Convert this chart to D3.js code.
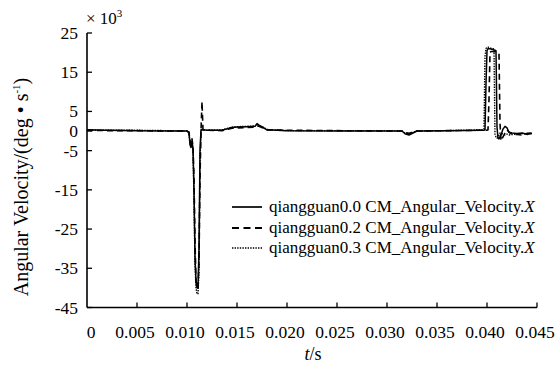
<!DOCTYPE html>
<html><head><meta charset="utf-8">
<script src="https://cdn.jsdelivr.net/npm/d3@7"></script>
<style>
body{margin:0;background:#fff;}
text{font-family:"Liberation Serif","Times New Roman",serif;fill:#000;}
</style></head>
<body><svg id="c" width="558" height="370"></svg>
<script>
// time (s)
const times = [0,0.002,0.005,0.008,0.0100,0.0102,0.0103,0.0104,0.0105,0.0106,0.0107,0.0108,0.0109,0.0110,0.0111,0.0112,0.0113,0.0114,0.0115,0.0116,0.0120,0.0135,0.0145,0.0150,0.0160,0.0168,0.0170,0.0172,0.0176,0.0180,0.0200,0.0250,0.0300,0.0315,0.0318,0.0322,0.0326,0.0330,0.0360,0.0395,0.0397,0.0398,0.0399,0.0400,0.0401,0.0402,0.0403,0.0404,0.0406,0.0407,0.0408,0.0409,0.0410,0.0411,0.0412,0.0413,0.0414,0.0416,0.0418,0.0420,0.0422,0.0425,0.0430,0.0435,0.0440,0.0445];
// angular velocity (x10^3 deg/s)
const solid00 = [0.3,0.2,0.1,0.0,0.0,-0.5,-3.5,-4.2,-2.5,-4.5,-15,-32,-38.5,-40,-40,-30,-5,0.3,0.3,0.3,0.2,0.2,0.9,1.0,1.1,1.2,1.9,1.5,0.9,0.3,0.1,0.0,0.0,0.0,-0.7,-1.0,-0.5,0.0,0.1,0.2,0.2,0.3,12,20.5,21,21,21,20.9,20.8,20.7,20.6,20.5,1,-1.8,-2,-1.5,-1,0.5,1.2,0.8,-0.3,-0.5,-0.6,-0.5,-0.8,-0.6];
const dashed02 = [0.2,0.1,0.1,0.0,0.0,-0.3,-2.5,-3.5,-2.0,-4.0,-12,-28,-38,-39.5,-40,-33,-12,0,7.5,0.3,0.2,0.1,0.7,0.8,0.9,1.0,1.3,1.2,0.8,0.3,0.2,0.1,0.0,0.0,-0.4,-0.6,-0.2,0.0,0.1,0.2,0.2,0.2,0.2,0.2,0.3,8,20,20.3,20.3,20.2,20.2,20.1,20,20,19.8,2,-2.5,-1.5,-0.5,0.3,-0.3,-0.8,-0.9,-1.0,-0.6,-0.5];
const dotted03 = [0.2,0.2,0.2,0.1,0.0,-0.3,-3.0,-4.0,-3.0,-5.0,-17,-34,-40,-41.5,-41.5,-36,-8,0.2,0.3,0.3,0.2,0.3,1.0,1.1,1.2,1.3,1.6,1.4,1.0,0.4,0.1,0.1,0.1,0.0,-0.5,-0.7,-0.3,0.0,0.1,0.3,0.5,19,21,21.4,21.4,21.3,21.2,21.1,21,20.9,-1,-1.5,-1.8,-1.5,-1,-0.5,-0.5,-0.8,-1.0,-0.8,-1.0,-0.9,-0.8,-0.6,-0.9,-0.5];
const xTicks = [0.005,0.010,0.015,0.020,0.025,0.030,0.035,0.040,0.045];
const xTickLabels = ["0","0.005","0.010","0.015","0.020","0.025","0.030","0.035","0.040","0.045"];
const yTicks = [25,15,5,0,-5,-15,-25,-35,-45];
const seriesNames = ["qiangguan0.0 CM_Angular_Velocity.","qiangguan0.2 CM_Angular_Velocity.","qiangguan0.3 CM_Angular_Velocity."];

const svg = d3.select("#c");
const x = d3.scaleLinear().domain([0,0.045]).range([87,537]);
const y = d3.scaleLinear().domain([-45,25]).range([307.5,33]);

// axes lines
const ax = svg.append("g").attr("stroke","#000").attr("stroke-width",1.6).attr("fill","none");
ax.append("line").attr("x1",x(0)).attr("x2",x(0.045)).attr("y1",y(-45)).attr("y2",y(-45));
ax.append("line").attr("x1",x(0)).attr("x2",x(0)).attr("y1",y(-45)).attr("y2",y(25));
xTicks.forEach(t=>{
  ax.append("line").attr("x1",x(t)).attr("x2",x(t)).attr("y1",y(-45)).attr("y2",y(-45)-5).attr("stroke-width",1.3);
});
yTicks.forEach(t=>{
  ax.append("line").attr("x1",x(0)).attr("x2",x(0)+5).attr("y1",y(t)).attr("y2",y(t)).attr("stroke-width",1.3);
});

// tick labels
[0].concat(xTicks).forEach((t,i)=>{
  svg.append("text").attr("x",x(t)+(i===0?4:-2)).attr("y",338).attr("text-anchor","middle")
    .attr("font-size",17.5).text(xTickLabels[i]);
});
yTicks.forEach(t=>{
  svg.append("text").attr("x",78).attr("y",y(t)+6).attr("text-anchor","end")
    .attr("font-size",17.5).text(t);
});

// exponent
const ex = svg.append("text").attr("x",86).attr("y",24).attr("font-size",17);
ex.append("tspan").text("× 10");
ex.append("tspan").attr("dy",-7).attr("font-size",11).text("3");

// axis titles
const xt = svg.append("text").attr("x",313).attr("y",360).attr("text-anchor","middle").attr("font-size",18);
xt.append("tspan").attr("font-style","italic").text("t");
xt.append("tspan").text("/s");

const yt = svg.append("text").attr("transform","translate(28,187) rotate(-90)").attr("text-anchor","middle").attr("font-size",20);
yt.append("tspan").text("Angular Velocity/(deg • s");
yt.append("tspan").attr("dy",-8).attr("font-size",11).text("-1");
yt.append("tspan").attr("dy",8).text(")");

// lines
const styles = [
  {dash:null, w:1.5},
  {dash:"6,4", w:1.6},
  {dash:"1.4,1.2", w:1.4}
];
const series = [solid00, dashed02, dotted03];
const line = d3.line().x((d,i)=>x(times[i])).y(d=>y(d));
[2,1,0].forEach(k=>{
  svg.append("path").datum(series[k]).attr("d",line).attr("fill","none")
    .attr("stroke","#000").attr("stroke-width",styles[k].w)
    .attr("stroke-dasharray",styles[k].dash).attr("stroke-linejoin","round");
});

// legend
const legY = [207,228,248];
seriesNames.forEach((n,k)=>{
  svg.append("line").attr("x1",232).attr("x2",262).attr("y1",legY[k]).attr("y2",legY[k])
    .attr("stroke","#000").attr("stroke-width",styles[k].w+0.2)
    .attr("stroke-dasharray",k===1?"7,4.5":(k===2?"1.4,1.2":null));
  const t = svg.append("text").attr("x",269).attr("y",legY[k]+5).attr("font-size",17);
  t.append("tspan").text(n);
  t.append("tspan").attr("font-style","italic").text("X");
});
</script></body></html>
